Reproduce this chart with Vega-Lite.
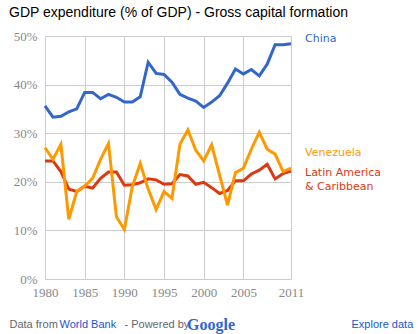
{
  "$schema": "https://vega.github.io/schema/vega-lite/v6.json",
  "autosize": {"type": "none"},
  "padding": {"left": 45, "top": 36, "right": 127, "bottom": 55},
  "width": 246,
  "height": 243,
  "background": "white",
  "title": {
    "text": "GDP expenditure (% of GDP) - Gross capital formation",
    "anchor": "start",
    "frame": "group",
    "dx": -36,
    "dy": 3,
    "offset": 2,
    "baseline": "alphabetic",
    "font": "Liberation Sans",
    "fontSize": 14,
    "fontWeight": "normal",
    "color": "#000000"
  },
  "config": {
    "view": {"stroke": null},
    "axis": {
      "domain": false,
      "ticks": false,
      "grid": true,
      "gridColor": "#cccccc",
      "gridWidth": 1,
      "labelFont": "Liberation Serif",
      "labelFontSize": 13,
      "labelColor": "#888888",
      "titleFont": "Liberation Sans",
      "titleFontSize": 11,
      "titleFontWeight": "normal"
    }
  },
  "datasets": {
    "gcf": [
      {"year": 1980, "series": "China", "value": 35.6},
      {"year": 1981, "series": "China", "value": 33.3},
      {"year": 1982, "series": "China", "value": 33.5},
      {"year": 1983, "series": "China", "value": 34.4},
      {"year": 1984, "series": "China", "value": 35.0},
      {"year": 1985, "series": "China", "value": 38.4},
      {"year": 1986, "series": "China", "value": 38.4},
      {"year": 1987, "series": "China", "value": 37.1},
      {"year": 1988, "series": "China", "value": 38.0},
      {"year": 1989, "series": "China", "value": 37.4},
      {"year": 1990, "series": "China", "value": 36.4},
      {"year": 1991, "series": "China", "value": 36.4},
      {"year": 1992, "series": "China", "value": 37.5},
      {"year": 1993, "series": "China", "value": 44.6},
      {"year": 1994, "series": "China", "value": 42.3},
      {"year": 1995, "series": "China", "value": 42.1},
      {"year": 1996, "series": "China", "value": 40.5},
      {"year": 1997, "series": "China", "value": 38.0},
      {"year": 1998, "series": "China", "value": 37.2},
      {"year": 1999, "series": "China", "value": 36.6},
      {"year": 2000, "series": "China", "value": 35.3},
      {"year": 2001, "series": "China", "value": 36.4},
      {"year": 2002, "series": "China", "value": 37.7},
      {"year": 2003, "series": "China", "value": 40.3},
      {"year": 2004, "series": "China", "value": 43.2},
      {"year": 2005, "series": "China", "value": 42.2},
      {"year": 2006, "series": "China", "value": 43.1},
      {"year": 2007, "series": "China", "value": 41.8},
      {"year": 2008, "series": "China", "value": 44.2},
      {"year": 2009, "series": "China", "value": 48.2},
      {"year": 2010, "series": "China", "value": 48.2},
      {"year": 2011, "series": "China", "value": 48.4},
      {"year": 1980, "series": "Latin America & Caribbean", "value": 24.3},
      {"year": 1981, "series": "Latin America & Caribbean", "value": 24.3},
      {"year": 1982, "series": "Latin America & Caribbean", "value": 22.1},
      {"year": 1983, "series": "Latin America & Caribbean", "value": 18.5},
      {"year": 1984, "series": "Latin America & Caribbean", "value": 18.0},
      {"year": 1985, "series": "Latin America & Caribbean", "value": 19.1},
      {"year": 1986, "series": "Latin America & Caribbean", "value": 18.7},
      {"year": 1987, "series": "Latin America & Caribbean", "value": 20.7},
      {"year": 1988, "series": "Latin America & Caribbean", "value": 22.0},
      {"year": 1989, "series": "Latin America & Caribbean", "value": 22.0},
      {"year": 1990, "series": "Latin America & Caribbean", "value": 19.3},
      {"year": 1991, "series": "Latin America & Caribbean", "value": 19.4},
      {"year": 1992, "series": "Latin America & Caribbean", "value": 19.8},
      {"year": 1993, "series": "Latin America & Caribbean", "value": 20.6},
      {"year": 1994, "series": "Latin America & Caribbean", "value": 20.4},
      {"year": 1995, "series": "Latin America & Caribbean", "value": 19.5},
      {"year": 1996, "series": "Latin America & Caribbean", "value": 19.6},
      {"year": 1997, "series": "Latin America & Caribbean", "value": 21.5},
      {"year": 1998, "series": "Latin America & Caribbean", "value": 21.2},
      {"year": 1999, "series": "Latin America & Caribbean", "value": 19.5},
      {"year": 2000, "series": "Latin America & Caribbean", "value": 19.9},
      {"year": 2001, "series": "Latin America & Caribbean", "value": 18.8},
      {"year": 2002, "series": "Latin America & Caribbean", "value": 17.6},
      {"year": 2003, "series": "Latin America & Caribbean", "value": 18.2},
      {"year": 2004, "series": "Latin America & Caribbean", "value": 20.2},
      {"year": 2005, "series": "Latin America & Caribbean", "value": 20.2},
      {"year": 2006, "series": "Latin America & Caribbean", "value": 21.6},
      {"year": 2007, "series": "Latin America & Caribbean", "value": 22.4},
      {"year": 2008, "series": "Latin America & Caribbean", "value": 23.6},
      {"year": 2009, "series": "Latin America & Caribbean", "value": 20.6},
      {"year": 2010, "series": "Latin America & Caribbean", "value": 21.7},
      {"year": 2011, "series": "Latin America & Caribbean", "value": 22.2},
      {"year": 1980, "series": "Venezuela", "value": 27.0},
      {"year": 1981, "series": "Venezuela", "value": 24.6},
      {"year": 1982, "series": "Venezuela", "value": 27.7},
      {"year": 1983, "series": "Venezuela", "value": 12.3},
      {"year": 1984, "series": "Venezuela", "value": 18.0},
      {"year": 1985, "series": "Venezuela", "value": 19.1},
      {"year": 1986, "series": "Venezuela", "value": 20.7},
      {"year": 1987, "series": "Venezuela", "value": 24.6},
      {"year": 1988, "series": "Venezuela", "value": 27.9},
      {"year": 1989, "series": "Venezuela", "value": 12.8},
      {"year": 1990, "series": "Venezuela", "value": 10.2},
      {"year": 1991, "series": "Venezuela", "value": 19.0},
      {"year": 1992, "series": "Venezuela", "value": 23.8},
      {"year": 1993, "series": "Venezuela", "value": 18.5},
      {"year": 1994, "series": "Venezuela", "value": 14.3},
      {"year": 1995, "series": "Venezuela", "value": 18.0},
      {"year": 1996, "series": "Venezuela", "value": 16.6},
      {"year": 1997, "series": "Venezuela", "value": 27.7},
      {"year": 1998, "series": "Venezuela", "value": 30.7},
      {"year": 1999, "series": "Venezuela", "value": 26.5},
      {"year": 2000, "series": "Venezuela", "value": 24.3},
      {"year": 2001, "series": "Venezuela", "value": 27.6},
      {"year": 2002, "series": "Venezuela", "value": 21.4},
      {"year": 2003, "series": "Venezuela", "value": 15.2},
      {"year": 2004, "series": "Venezuela", "value": 21.9},
      {"year": 2005, "series": "Venezuela", "value": 22.8},
      {"year": 2006, "series": "Venezuela", "value": 26.7},
      {"year": 2007, "series": "Venezuela", "value": 30.2},
      {"year": 2008, "series": "Venezuela", "value": 26.7},
      {"year": 2009, "series": "Venezuela", "value": 25.7},
      {"year": 2010, "series": "Venezuela", "value": 22.1},
      {"year": 2011, "series": "Venezuela", "value": 22.8}
    ]
  },
  "data": {"name": "gcf"},
  "layer": [
    {
      "mark": {"type": "line", "strokeWidth": 3, "interpolate": "linear"},
      "encoding": {
        "x": {
          "field": "year",
          "type": "quantitative",
          "scale": {"domain": [1980, 2011], "nice": false, "zero": false},
          "axis": {
            "values": [1980, 1985, 1990, 1995, 2000, 2005, 2011],
            "format": "d",
            "labelPadding": 7,
            "labelFlush": false,
            "labelOverlap": false,
            "title": "Data from",
            "titleColor": "#666666",
            "titleAnchor": "start",
            "titleAlign": "left",
            "titleBaseline": "middle",
            "titleX": -36,
            "titleY": 45
          }
        },
        "y": {
          "field": "value",
          "type": "quantitative",
          "scale": {"domain": [0, 50], "nice": false},
          "axis": {
            "values": [0, 10, 20, 30, 40, 50],
            "labelExpr": "datum.value + '%'",
            "labelPadding": 8,
            "labelOverlap": false,
            "title": "World Bank",
            "titleColor": "#2255cc",
            "titleAngle": 0,
            "titleAlign": "left",
            "titleBaseline": "middle",
            "titleAnchor": "start",
            "titleX": 14,
            "titleY": 288
          }
        },
        "color": {
          "field": "series",
          "type": "nominal",
          "scale": {
            "domain": ["China", "Venezuela", "Latin America & Caribbean"],
            "range": ["#3366cc", "#ff9900", "#dc3912"]
          },
          "legend": {
            "orient": "none",
            "legendX": 142,
            "legendY": 281,
            "title": "Google",
            "titleFont": "Liberation Serif",
            "titleFontSize": 16,
            "titleFontWeight": "bold",
            "titleColor": "#3366cc",
            "titleBaseline": "top",
            "labelExpr": "''",
            "symbolOpacity": 0,
            "symbolSize": 0,
            "symbolStrokeWidth": 0,
            "rowPadding": 0,
            "labelFontSize": 1
          }
        }
      }
    },
    {
      "transform": [{"filter": "datum.year == 2011 && datum.series == 'China'"}],
      "mark": {"type": "text", "align": "left", "baseline": "middle", "dx": 14, "dy": -5, "font": "DejaVu Sans", "fontSize": 11},
      "encoding": {
        "x": {
          "field": "year",
          "type": "quantitative",
          "axis": {
            "orient": "top",
            "labels": false,
            "grid": false,
            "title": "- Powered by",
            "titleColor": "#666666",
            "titleAnchor": "start",
            "titleAlign": "left",
            "titleBaseline": "middle",
            "titleX": 79,
            "titleY": 288
          }
        },
        "y": {
          "field": "value",
          "type": "quantitative",
          "axis": {
            "orient": "right",
            "labels": false,
            "grid": false,
            "title": "Explore data",
            "titleColor": "#2255cc",
            "titleAngle": 0,
            "titleAlign": "left",
            "titleBaseline": "middle",
            "titleAnchor": "start",
            "titleX": 60,
            "titleY": 288
          }
        },
        "color": {"field": "series", "type": "nominal"},
        "text": {"field": "series"}
      }
    },
    {
      "transform": [{"filter": "datum.year == 2011 && datum.series == 'Venezuela'"}],
      "mark": {"type": "text", "align": "left", "baseline": "middle", "dx": 14, "dy": -15.5, "font": "DejaVu Sans", "fontSize": 11},
      "encoding": {
        "x": {"field": "year", "type": "quantitative", "axis": null},
        "y": {"field": "value", "type": "quantitative", "axis": null},
        "color": {"field": "series", "type": "nominal"},
        "text": {"field": "series"}
      }
    },
    {
      "transform": [{"filter": "datum.year == 2011 && datum.series == 'Latin America & Caribbean'"}],
      "mark": {"type": "text", "align": "left", "baseline": "middle", "dx": 14, "dy": 1.4, "lineHeight": 14, "font": "DejaVu Sans", "fontSize": 11, "text": ["Latin America", "& Caribbean"]},
      "encoding": {
        "x": {"field": "year", "type": "quantitative", "axis": null},
        "y": {"field": "value", "type": "quantitative", "axis": null},
        "color": {"field": "series", "type": "nominal"}
      }
    }
  ],
  "resolve": {"axis": {"x": "independent", "y": "independent"}}
}
